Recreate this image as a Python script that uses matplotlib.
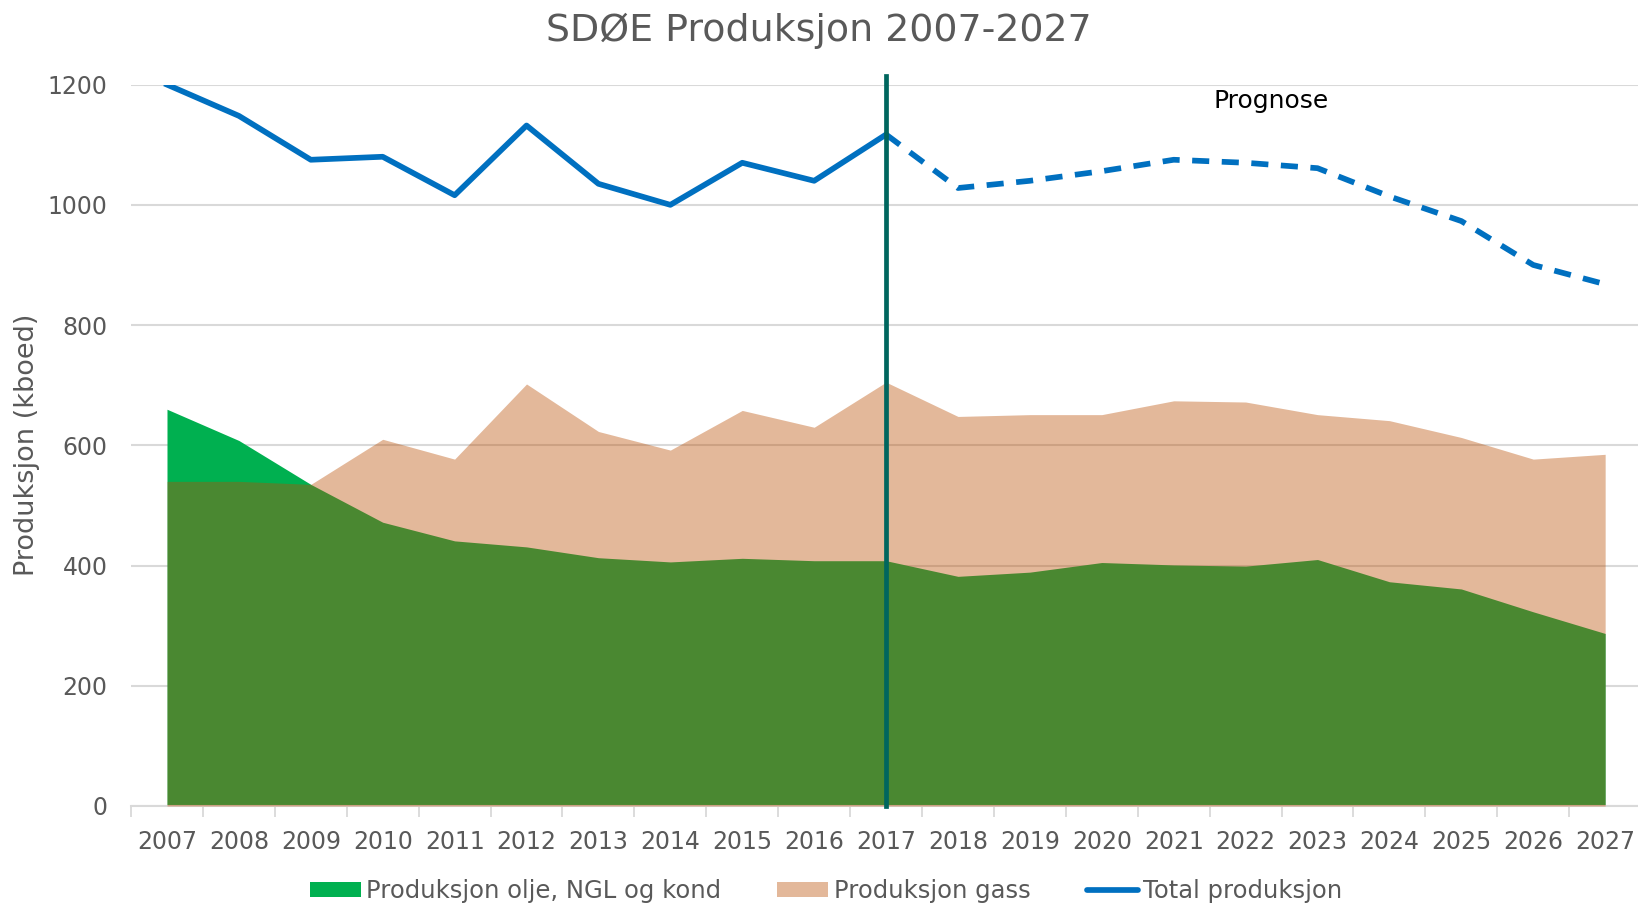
import numpy as np
import matplotlib
matplotlib.use('Agg')
import matplotlib.pyplot as plt
from matplotlib.patches import Patch
from matplotlib.lines import Line2D

years = [str(y) for y in range(2007, 2028)]

# kboed, lest av figuren
olje = [660, 608, 535, 472, 441, 431, 413, 406, 412, 408, 408,
        382, 389, 405, 401, 399, 410, 373, 361, 323, 287]
gass = [540, 540, 535, 610, 577, 702, 623, 592, 658, 630, 705,
        648, 651, 651, 674, 672, 651, 641, 613, 577, 585]
total = [1200, 1148, 1075, 1080, 1016, 1132, 1035, 1000, 1070, 1040, 1117,
         1028, 1040, 1056, 1075, 1070, 1061, 1014, 973, 900, 868]
prognose_fra = '2017'

GRONN = '#00B050'
GASS = '#BA4E03'
GASS_ALPHA = 0.4
BLA = '#0070C0'
STREK = '#00665E'
GRA = '#595959'
GRID = '#D9D9D9'

plt.rcParams['font.family'] = ['DejaVu Sans']

fig = plt.figure(figsize=(16.38, 9.06), dpi=100)
ax = fig.add_axes([0.0800, 0.1104, 0.9219, 0.7962])

x = np.arange(len(years))
split = years.index(prognose_fra)

ax.fill_between(x, 0, olje, color=GRONN, linewidth=0, zorder=2)
ax.fill_between(x, 0, gass, color=GASS, alpha=GASS_ALPHA, linewidth=0, zorder=3)

ax.plot(x[:split + 1], total[:split + 1], color=BLA, lw=4.1,
        solid_joinstyle='round', zorder=4)
ax.plot(x[split:], total[split:], color=BLA, lw=4.1, dashes=(3.0, 2.2),
        zorder=4)

ax.axvline(split, ymin=0, ymax=1.0125, color=STREK, lw=3.4, clip_on=False,
           zorder=5)

ax.text(15.35, 1173, 'Prognose', ha='center', va='center', fontsize=18,
        color='black')

ax.set_xlim(-0.5, len(years) - 0.5)
ax.set_ylim(0, 1200)
ax.set_yticks(range(0, 1201, 200))
ax.yaxis.grid(True, color=GRID, lw=1.5, zorder=0)
ax.set_axisbelow(True)

# Excel-stil: tick-merker mellom kategoriene, etiketter i midten
ax.set_xticks(np.arange(-0.5, len(years), 1.0))
ax.set_xticklabels([])
ax.set_xticks(x, minor=True)
ax.set_xticklabels(years, minor=True)
ax.tick_params(axis='x', which='major', length=8, width=1.3, color=GRID)
ax.tick_params(axis='x', which='minor', length=0, pad=17, labelsize=17,
               labelcolor=GRA)
ax.tick_params(axis='y', length=0, pad=17, labelsize=17, labelcolor=GRA)

for s in ['top', 'right', 'left']:
    ax.spines[s].set_visible(False)
ax.spines['bottom'].set_color(GRID)
ax.spines['bottom'].set_linewidth(1.5)

ax.set_ylabel('Produksjon (kboed)', fontsize=19.5, color=GRA)
ax.yaxis.set_label_coords(-0.0603, 0.5)

fig.text(819 / 1638, 1 - 31 / 906, 'SDØE Produksjon 2007-2027', ha='center',
         va='center', fontsize=27.3, color=GRA)

handles = [
    Patch(facecolor=GRONN, edgecolor='none', label='Produksjon olje, NGL og kond'),
    Patch(facecolor=GASS, alpha=GASS_ALPHA, edgecolor='none', label='Produksjon gass'),
    Line2D([0], [0], color=BLA, lw=4.1, solid_capstyle='round', label='Total produksjon'),
]
fig.legend(handles=handles, loc='center', bbox_to_anchor=(826 / 1638, 1 - 891 / 906),
           ncol=3, frameon=False, fontsize=17.5, handlelength=2.1, handleheight=0.6,
           handletextpad=0.23, columnspacing=2.3, labelcolor=GRA)

fig.savefig('out.png', dpi=100)
